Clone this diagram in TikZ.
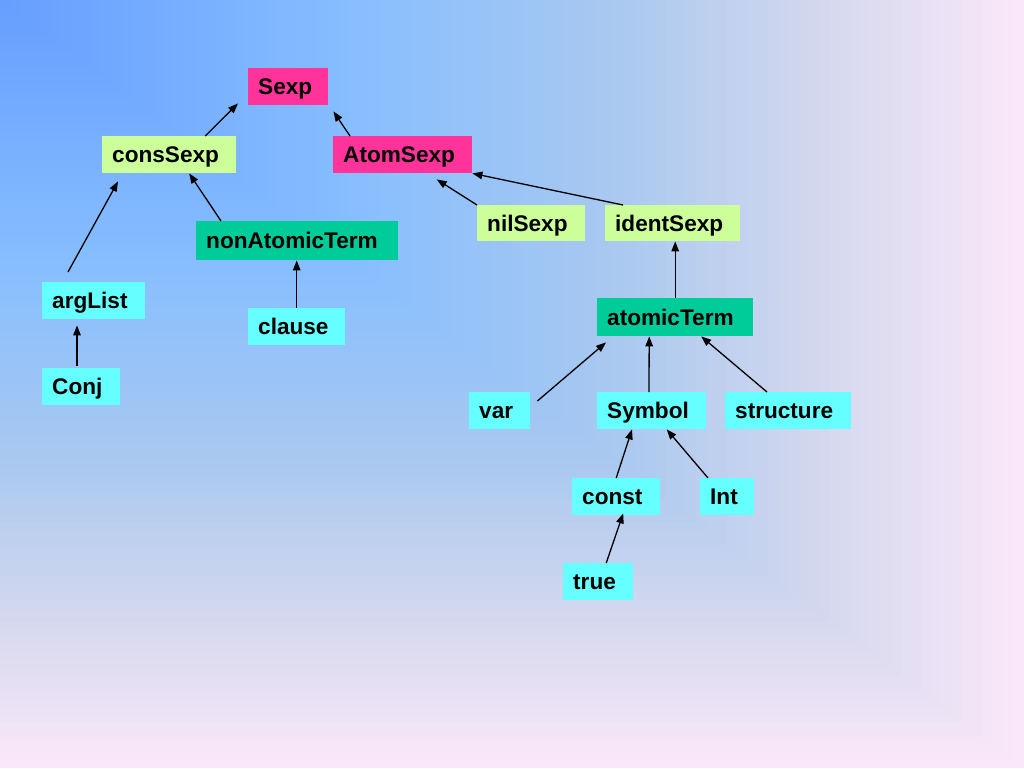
\documentclass[tikz,border=0pt]{standalone}
\usepackage{fontspec}
\setsansfont{Liberation Sans}
\usetikzlibrary{arrows.meta}

\definecolor{bgA}{RGB}{102,158,255}
\definecolor{bgB}{RGB}{135,190,255}
\definecolor{bgC}{RGB}{168,200,240}
\definecolor{bgD}{RGB}{210,215,238}
\definecolor{bgE}{RGB}{250,232,248}
\definecolor{termpink}{RGB}{255,51,153}
\definecolor{termlime}{RGB}{204,255,153}
\definecolor{termteal}{RGB}{0,204,153}
\definecolor{termcyan}{RGB}{102,255,255}

\tikzset{
  term/.style={anchor=north west, align=left, inner xsep=10pt, inner ysep=0pt,
    minimum height=37pt, text height=16.3pt, text depth=0pt,
    font=\sffamily\bfseries\fontsize{22.6}{27}\selectfont},
  pinkterm/.style={term, fill=termpink},
  limeterm/.style={term, fill=termlime},
  tealterm/.style={term, fill=termteal},
  cyanterm/.style={term, fill=termcyan},
  arr/.style={line width=1.3pt, -{Triangle[length=10pt,width=7.5pt]}}
}

\begin{document}
\begin{tikzpicture}[x=1pt, y=-1pt]
        \useasboundingbox (0,0) rectangle (1024,768);

        % background, from the top left corner
        \foreach \i in {100,99,...,1}{
          \ifnum\i>80
            \pgfmathtruncatemacro\p{(\i-80)*5}
            \colorlet{bgcur}{bgE!\p!bgD}
          \else\ifnum\i>60
            \pgfmathtruncatemacro\p{(\i-60)*5}
            \colorlet{bgcur}{bgD!\p!bgC}
          \else\ifnum\i>35
            \pgfmathtruncatemacro\p{(\i-35)*4}
            \colorlet{bgcur}{bgC!\p!bgB}
          \else
            \pgfmathtruncatemacro\p{\i*100/35}
            \colorlet{bgcur}{bgB!\p!bgA}
          \fi\fi\fi
          \fill[bgcur] (0,0) rectangle (\i*10.24, \i*7.68);
        }

        \node[pinkterm, text width=60pt] (Sexp) at (248,68) {Sexp};
        \node[limeterm, text width=114pt] (consSexp) at (102,136) {consSexp};
        \node[pinkterm, text width=119pt] (AtomSexp) at (333,136) {AtomSexp};
        \node[limeterm, text width=88pt, minimum height=36pt] (nilSexp) at (477,205) {nilSexp};
        \node[limeterm, text width=115pt, minimum height=36pt] (identSexp) at (605,205) {identSexp};
        \node[tealterm, text width=182pt, minimum height=39pt] (nonAtomicTerm) at (196,221) {nonAtomicTerm};
        \node[cyanterm, text width=83pt] (argList) at (42,282) {argList};
        \node[cyanterm, text width=77pt] (clause) at (248,308) {clause};
        \node[cyanterm, text width=58pt] (Conj) at (42,368) {Conj};
        \node[tealterm, text width=136pt, minimum height=38pt] (atomicTerm) at (597,298) {atomicTerm};
        \node[cyanterm, text width=41pt] (var) at (469,392) {var};
        \node[cyanterm, text width=89pt] (Symbol) at (597,392) {Symbol};
        \node[cyanterm, text width=106pt] (structure) at (725,392) {structure};
        \node[cyanterm, text width=68pt] (const) at (572,478) {const};
        \node[cyanterm, text width=34pt] (Int) at (700,478) {Int};
        \node[cyanterm, text width=50pt] (true) at (563,563) {true};

        \draw[arr] ([shift={(36,0)}]consSexp.north) -- ([shift={(-10,-2)}]Sexp.south west);
        \draw[arr] ([shift={(17,0)}]AtomSexp.north west) -- ([shift={(5,6)}]Sexp.south east);
        \draw[arr] ([shift={(26,-10)}]argList.north west) -- ([shift={(16,8)}]consSexp.south west);
        \draw[arr] ([shift={(25,0)}]nonAtomicTerm.north west) -- ([shift={(20,0)}]consSexp.south);
        \draw[arr] (nilSexp.north west) -- ([shift={(34,6)}]AtomSexp.south);
        \draw[arr] ([shift={(18,0)}]identSexp.north west) -- (AtomSexp.south east);
        \draw[arr] (clause.north) -- (clause.north |- nonAtomicTerm.south);
        \draw[arr] ([shift={(35,-2)}]Conj.north west) -- ([shift={(35,6)}]argList.south west);
        \draw[arr] (atomicTerm.north) -- (atomicTerm.north |- identSexp.south);
        \draw[arr] ([shift={(7,9)}]var.north east) -- ([shift={(9,6)}]atomicTerm.south west);
        \draw[arr] ([shift={(52,0)}]Symbol.north west) -- ([shift={(-26,0)}]atomicTerm.south);
        \draw[arr] ([shift={(42,0)}]structure.north west) -- ([shift={(26,0)}]atomicTerm.south);
        \draw[arr] (const.north) -- ([shift={(35,0)}]Symbol.south west);
        \draw[arr] ([shift={(8,0)}]Int.north west) -- ([shift={(15,0)}]Symbol.south);
        \draw[arr] ([shift={(8,0)}]true.north) -- ([shift={(7,-2)}]const.south);
\end{tikzpicture}
\end{document}
